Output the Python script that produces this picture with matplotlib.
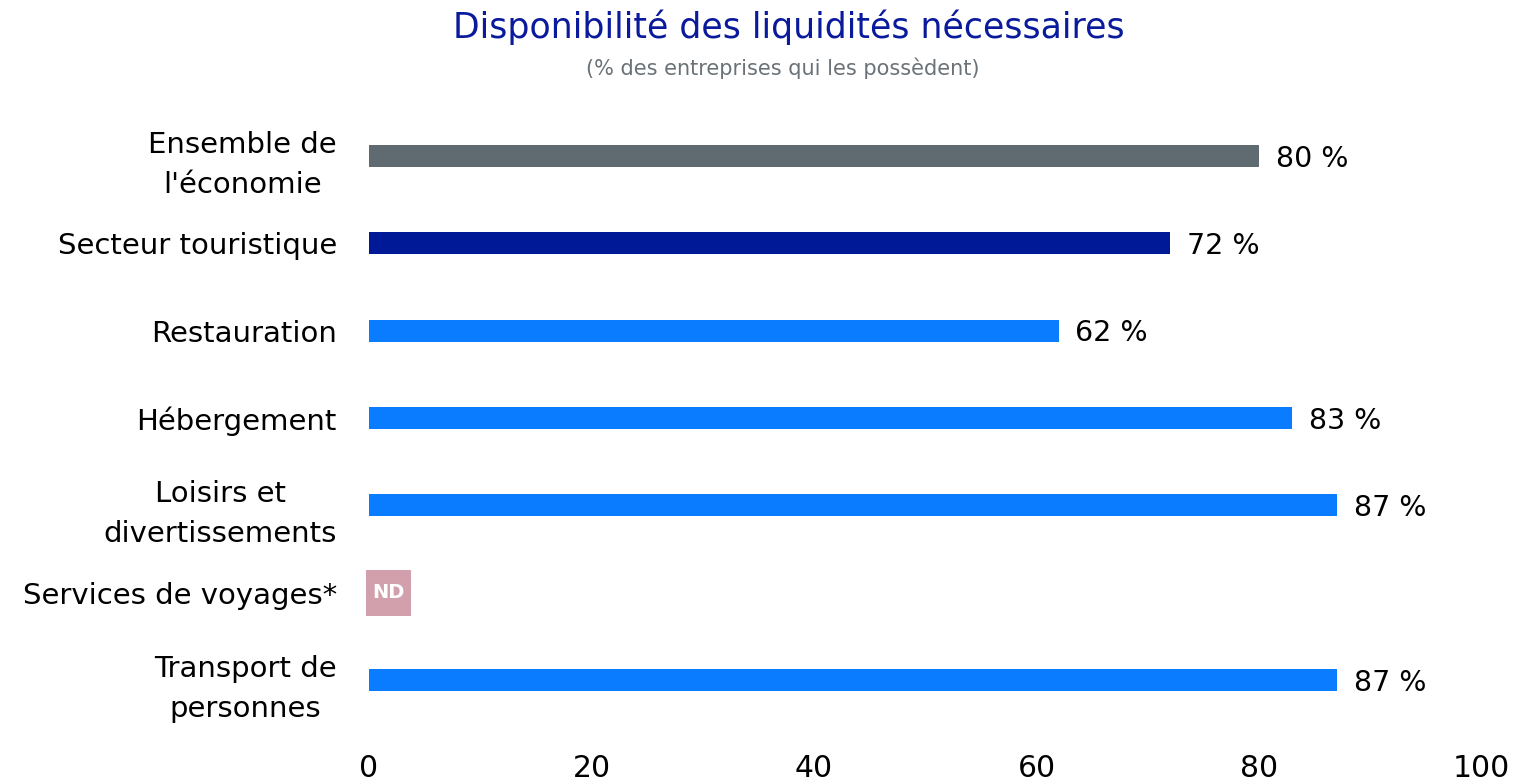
import matplotlib
matplotlib.use('Agg')
from matplotlib import pyplot as plt
from matplotlib.patches import Rectangle
import numpy as np

# Chart data
categories = ["Ensemble de\nl'économie", "Secteur touristique", "Restauration",
              "Hébergement", "Loisirs et\ndivertissements", "Services de voyages*",
              "Transport de\npersonnes"]
values = [80, 72, 62, 83, 87, None, 87]
bar_colours = ['#5f6a71', '#001996', '#0a7cff', '#0a7cff', '#0a7cff', '#0a7cff', '#0a7cff']
xticks = [0, 20, 40, 60, 80, 100]

title = "Disponibilité des liquidités nécessaires"
subtitle = "(% des entreprises qui les possèdent)"

plt.rcParams['font.family'] = ['DejaVu Sans']

fig = plt.figure(figsize=(15.34, 7.81), dpi=100)
ax = fig.add_axes([0.2405, 0.0734, 0.7253, 0.7828])

ypos = np.arange(len(categories))
for y, v, c in zip(ypos, values, bar_colours):
    if v is None:
        # not available -> small pink badge
        ax.add_patch(Rectangle((-0.25, y - 0.265), 4.05, 0.53, fc='#d29fad',
                               ec='none', clip_on=False))
        ax.text(1.78, y, 'ND', ha='center', va='center', fontsize=14,
                fontweight='bold', color='white')
        continue
    ax.barh(y, v, height=0.25, color=c)
    ax.text(v + 1.5, y + 0.03, f"{v} %", ha='left', va='center', fontsize=20.5, color='black')

ax.set_yticks(ypos)
ax.set_yticklabels(categories, fontsize=21, multialignment='center', linespacing=1.55)
ax.set_xticks(xticks)
ax.set_xticklabels([str(t) for t in xticks], fontsize=21.5)
ax.set_xlim(0, 100)
ax.set_ylim(len(categories) - 0.5, -0.5)
ax.tick_params(axis='both', length=0)
ax.tick_params(axis='y', pad=23)
ax.tick_params(axis='x', pad=22)
for s in ax.spines.values():
    s.set_visible(False)

fig.text(0.514, 0.965, title, ha='center', va='center', fontsize=25, color='#0a1a9c')
fig.text(0.510, 0.912, subtitle, ha='center', va='center', fontsize=15, color='#6b7277')

fig.savefig('out.png', dpi=100)
